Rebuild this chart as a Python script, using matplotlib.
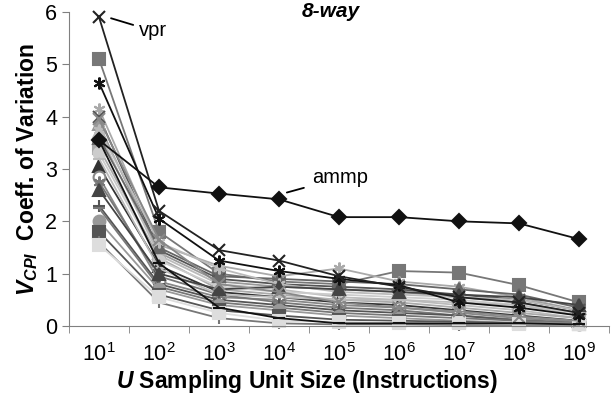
import numpy as np
import matplotlib
matplotlib.use("Agg")
import matplotlib.pyplot as plt
from matplotlib.ticker import FixedLocator

plt.rcParams["font.family"] = ["Liberation Sans", "DejaVu Sans"]
plt.rcParams["mathtext.fontset"] = "custom"
plt.rcParams["mathtext.rm"] = "Liberation Sans"
plt.rcParams["mathtext.it"] = "Liberation Sans:italic"
plt.rcParams["mathtext.bf"] = "Liberation Sans:bold"
plt.rcParams["mathtext.bfit"] = "Liberation Sans:italic:bold"

unit_sizes = ["$10^{1}$", "$10^{2}$", "$10^{3}$", "$10^{4}$", "$10^{5}$",
              "$10^{6}$", "$10^{7}$", "$10^{8}$", "$10^{9}$"]

# coefficient of variation per benchmark, one value per sampling unit size
applu = [5.10, 1.80, 1.00, 0.85, 0.80, 1.05, 1.02, 0.78, 0.45]
art = [4.15, 1.55, 1.15, 0.95, 1.10, 0.85, 0.75, 0.55, 0.30]
bzip2 = [4.00, 1.45, 0.90, 0.80, 0.75, 0.70, 0.60, 0.50, 0.30]
crafty = [3.85, 1.40, 0.85, 0.75, 0.70, 0.65, 0.55, 0.45, 0.25]
eon = [3.70, 1.35, 0.80, 0.70, 0.55, 0.50, 0.40, 0.30, 0.15]
equake = [3.55, 1.20, 0.35, 0.15, 0.05, 0.05, 0.05, 0.05, 0.03]
facerec = [3.40, 1.30, 0.70, 0.60, 0.50, 0.45, 0.35, 0.25, 0.15]
fma3d = [3.30, 1.25, 0.75, 0.65, 0.60, 0.55, 0.50, 0.40, 0.25]
galgel = [3.05, 1.15, 0.65, 0.55, 0.45, 0.40, 0.30, 0.20, 0.10]
gap = [2.85, 0.85, 0.55, 0.50, 0.40, 0.35, 0.25, 0.15, 0.08]
gcc = [2.75, 0.95, 0.60, 0.45, 0.35, 0.30, 0.20, 0.12, 0.06]
gzip = [3.20, 1.10, 0.60, 0.55, 0.50, 0.50, 0.45, 0.40, 0.20]
lucas = [2.30, 0.80, 0.50, 0.40, 0.30, 0.25, 0.20, 0.10, 0.05]
mcf = [2.25, 0.75, 0.45, 0.35, 0.25, 0.20, 0.15, 0.10, 0.05]
mesa = [2.00, 0.70, 0.40, 0.30, 0.20, 0.15, 0.10, 0.06, 0.04]
mgrid = [1.80, 0.60, 0.30, 0.20, 0.12, 0.10, 0.08, 0.05, 0.03]
parser = [1.60, 0.45, 0.15, 0.05, 0.03, 0.03, 0.02, 0.02, 0.02]
perlbmk = [1.55, 0.55, 0.25, 0.10, 0.08, 0.06, 0.05, 0.04, 0.03]
sixtrack = [3.60, 1.50, 0.95, 0.90, 0.85, 0.80, 0.70, 0.60, 0.35]
swim = [3.75, 1.60, 1.10, 0.80, 0.65, 0.60, 0.55, 0.50, 0.30]
vortex = [2.60, 1.00, 0.70, 0.75, 0.70, 0.65, 0.60, 0.55, 0.40]
wupwise = [3.95, 1.65, 0.80, 0.65, 0.45, 0.35, 0.28, 0.18, 0.10]
twolf = [4.65, 2.05, 1.25, 1.05, 0.90, 0.78, 0.45, 0.35, 0.20]
vpr = [5.90, 2.20, 1.45, 1.25, 0.95, 0.75, 0.55, 0.45, 0.25]
ammp = [3.55, 2.65, 2.53, 2.42, 2.08, 2.08, 2.00, 1.96, 1.66]

asterisk = (6, 2, 0)
# (values, colour, marker) - gray background series first, black ones on top
series = [
    (applu, "#777777", "s"), (art, "#aaaaaa", asterisk), (bzip2, "#555555", "x"),
    (crafty, "#999999", "^"), (eon, "#bbbbbb", "^"), (facerec, "#aaaaaa", "s"),
    (fma3d, "#cccccc", "o"), (galgel, "#333333", "^"), (gap, "#888888", "o"),
    (gcc, "#777777", asterisk), (gzip, "#bbbbbb", "_"), (lucas, "#555555", "+"),
    (mcf, "#777777", "_"), (mesa, "#999999", "o"), (mgrid, "#555555", "s"),
    (parser, "#777777", "+"), (perlbmk, "#dddddd", "s"), (sixtrack, "#666666", "^"),
    (swim, "#bbbbbb", asterisk), (vortex, "#444444", "^"), (wupwise, "#888888", "x"),
    (equake, "#111111", "_"),
    (twolf, "#111111", asterisk), (vpr, "#222222", "x"), (ammp, "#111111", "D"),
]

fig = plt.figure(figsize=(6.13, 3.95), dpi=100)
ax = fig.add_axes([0.1126, 0.1747, 0.881, 0.795])
x = np.arange(len(unit_sizes))

for vals, col, mk in series:
    face = "white" if col == "#888888" and mk == "o" else col
    size = 7 if mk == "D" else 8.5
    ax.plot(x, vals, color=col, lw=1.3, marker=mk, ms=size, mfc=face,
            mec=col, mew=1.5, clip_on=False)

ax.set_xlim(-0.5, 8.5)
ax.set_ylim(0, 6)
ax.set_xticks(x)
ax.set_xticklabels(unit_sizes, fontsize=15.5)
ax.xaxis.set_minor_locator(FixedLocator(np.arange(-0.5, 9, 1)))
ax.tick_params(axis="x", which="major", length=0, pad=12)
ax.tick_params(axis="x", which="minor", length=5, color="#808080")
ax.set_yticks(range(0, 7))
ax.tick_params(axis="y", labelsize=15.5, length=5, color="#808080")

for side in ["top", "right"]:
    ax.spines[side].set_visible(False)
for side in ["left", "bottom"]:
    ax.spines[side].set_color("#808080")

ax.set_xlabel(r"$\mathbfit{U}$ Sampling Unit Size (Instructions)",
              fontsize=16.5, fontweight="bold", labelpad=2)
ax.xaxis.set_label_coords(0.44, -0.135)
ax.set_ylabel(r"$\mathbfit{V}_{\mathbfit{CPI}}$  Coeff. of Variation",
              fontsize=16.5, fontweight="bold", labelpad=4)

ax.text(3.87, 6.0, "8-way", fontsize=15, fontweight="bold", style="italic",
        ha="center", va="center")
ax.annotate("vpr", xy=(0.2, 5.88), xytext=(0.66, 5.64), fontsize=14.5,
            va="center", ha="left",
            arrowprops=dict(arrowstyle="-", color="black", lw=1.3,
                            shrinkA=2, shrinkB=0))
ax.annotate("ammp", xy=(3.13, 2.55), xytext=(3.55, 2.83), fontsize=14.5,
            va="center", ha="left",
            arrowprops=dict(arrowstyle="-", color="black", lw=1.3,
                            shrinkA=4, shrinkB=0))

fig.savefig("out.png", dpi=100)
